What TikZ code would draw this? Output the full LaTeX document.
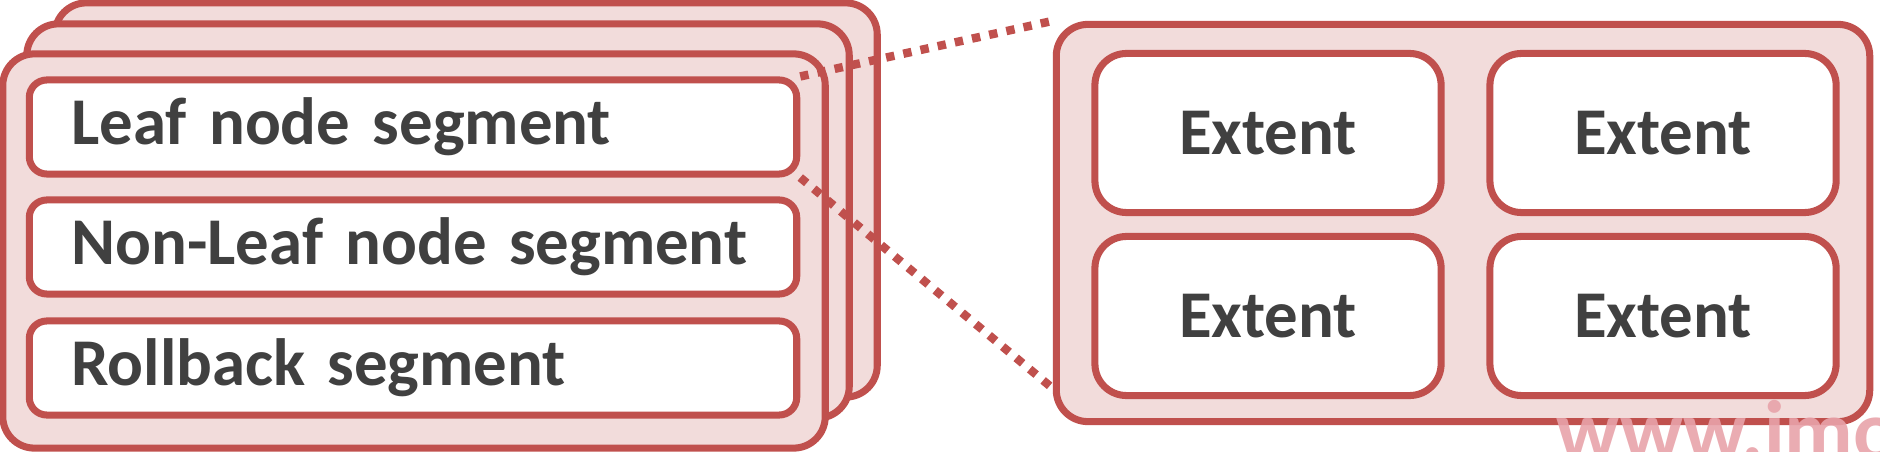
\documentclass[tikz,border=0pt]{standalone}
\usepackage{fontspec}
\setmainfont{Carlito}
\definecolor{boxred}{HTML}{C0504D}
\definecolor{boxpink}{HTML}{F2DCDB}
\definecolor{textgray}{HTML}{404040}
\definecolor{markpink}{HTML}{E8A3AA}

\begin{document}
\begin{tikzpicture}[x=0.01cm, y=-0.01cm,
  stack/.style={draw=boxred, fill=boxpink, line width=2pt, rounded corners=9pt,
    minimum width=8.22cm, minimum height=3.94cm},
  segbox/.style={draw=boxred, fill=white, line width=2pt, rounded corners=5pt,
    inner xsep=0.42cm, text width=6.83cm, align=left, minimum height=0.94cm,
    text=textgray, font=\bfseries\fontsize{19}{23}\selectfont},
  outerbox/.style={draw=boxred, fill=boxpink, line width=2pt, rounded corners=9pt,
    minimum width=8.13cm, minimum height=3.97cm},
  extbox/.style={draw=boxred, fill=white, line width=2pt, rounded corners=9pt,
    minimum width=3.46cm, minimum height=1.59cm,
    text=textgray, font=\bfseries\fontsize{19}{23}\selectfont},
  zoomline/.style={draw=boxred, line width=2.4pt, dash pattern=on 2.4pt off 2.6pt}]
  \useasboundingbox (0,0) rectangle (1880,452);
  \clip (0,0) rectangle (1880,452);

  % segment stack
  \node[stack] (back3) at (466,200) {};
  \node[stack] (back2) at (438,221) {};
  \node[stack] (front) at (414,251) {};
  \node[segbox] (leaf) at (413,127) {Leaf node segment};
  \node[segbox] (nonleaf) at (413,247) {Non-Leaf node segment};
  \node[segbox] (rollback) at (413,368) {Rollback segment};

  % extents
  \node[outerbox] (extents) at (1463,223) {};
  \node[extbox] (ext1) at (1268,133) {Extent};
  \node[extbox] (ext2) at (1663,133) {Extent};
  \node[extbox] (ext3) at (1268,316) {Extent};
  \node[extbox] (ext4) at (1663,316) {Extent};

  \coordinate (zoomend) at (1057,392);
  \draw[zoomline] (leaf.north east) -- (extents.north west);
  \draw[zoomline] (leaf.south east) -- (zoomend);

  \node[anchor=base west, text=markpink, text opacity=0.9, inner sep=0pt,
    font=\bfseries\fontsize{24}{26}\selectfont] (mark) at (1556,459) {www.imo};
\end{tikzpicture}
\end{document}
